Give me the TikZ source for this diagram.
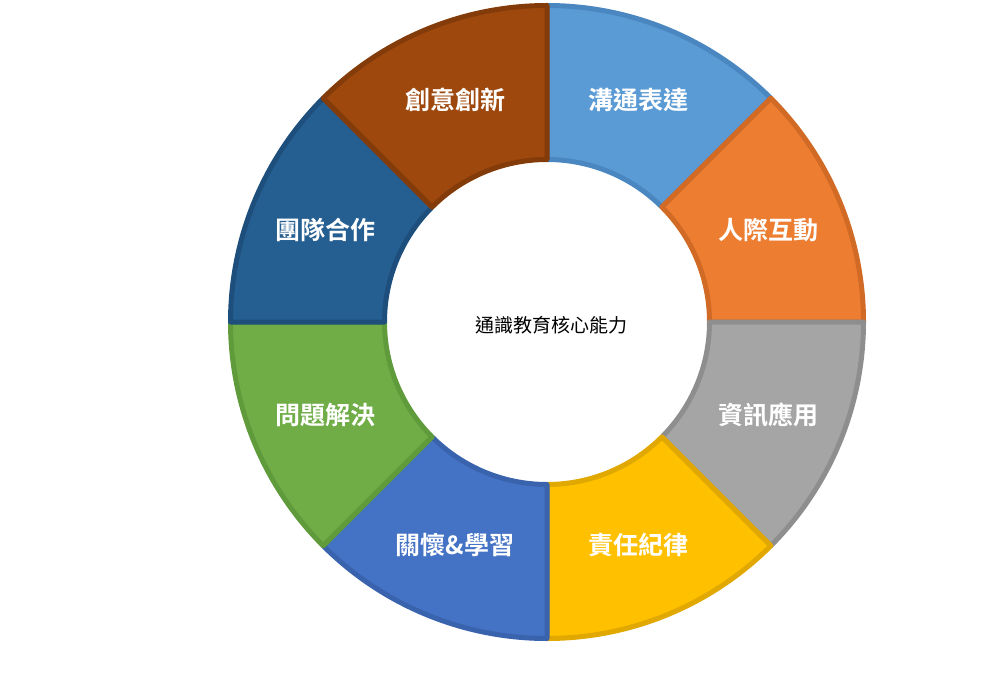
\documentclass[tikz,border=0pt]{standalone}
\usepackage{fontspec}
\newfontfamily\cjkb{Noto Sans CJK TC Bold}
\newfontfamily\cjk{Noto Sans CJK TC}
\begin{document}
\begin{tikzpicture}[x=1pt,y=1pt,
  lab/.style={text=white,font=\cjkb\fontsize{25}{25}\selectfont}]
\useasboundingbox (0,0) rectangle (1008,673);
\begin{scope}[shift={(547,351)}]
\def\R{316.5}\def\r{162.5}
\foreach \a/\f/\d in {45/5B9BD5/4A86C0, 0/ED7D31/D06A25, -45/A5A5A5/8E8E8E, -90/FFC000/E0A800, -135/4472C4/3A63AE, -180/70AD47/5F9A3B, 135/255E91/1E4F7C, 90/9E480E/843B0A}{
  \definecolor{fc}{HTML}{\f}\definecolor{dc}{HTML}{\d}
  \pgfmathsetmacro\b{\a+45}
  \draw[fill=fc,draw=dc,line width=5pt,line join=round] (\a:\r) -- (\a:\R) arc[start angle=\a,end angle=\b,radius=\R] -- (\b:\r) arc[start angle=\b,end angle=\a,radius=\r] -- cycle;
}
\end{scope}
\node[lab] (s1) at (638,573) {溝通表達};
\node[lab] (s2) at (768,443) {人際互動};
\node[lab] (s3) at (768,258) {資訊應用};
\node[lab] (s4) at (638,128) {責任紀律};
\node[lab] (s5) at (455,128) {關懷\&學習};
\node[lab] (s6) at (325,258) {問題解決};
\node[lab] (s7) at (325,443) {團隊合作};
\node[lab] (s8) at (455,573) {創意創新};
\node[font=\cjk\fontsize{19}{19}\selectfont] (c) at (551,348) {通識教育核心能力};
\end{tikzpicture}
\end{document}
